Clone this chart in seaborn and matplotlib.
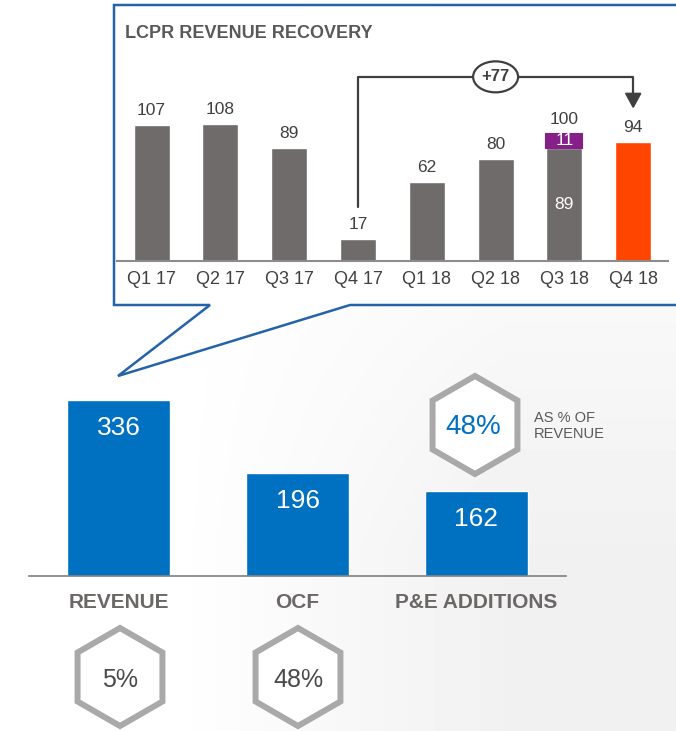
import matplotlib
matplotlib.use('Agg')
import matplotlib.pyplot as plt
import matplotlib.patches as mpatches
import numpy as np
import seaborn as sns

# 数据
quarters = ['Q1 17', 'Q2 17', 'Q3 17', 'Q4 17', 'Q1 18', 'Q2 18', 'Q3 18', 'Q4 18']
base_vals = [107, 108, 89, 17, 62, 80, 89, 94]
extra_vals = [0, 0, 0, 0, 0, 0, 11, 0]
total_vals = [107, 108, 89, 17, 62, 80, 100, 94]
recovery_delta = '+77'

categories = ['REVENUE', 'OCF', 'P&E ADDITIONS']
amounts = [336, 196, 162]
growth_labels = ['5%', '48%']
capex_ratio = '48%'

GRAY = '#6f6b6b'
ORANGE = '#ff4500'
PURPLE = '#861f87'
BLUE = '#0070c0'
HEX_EDGE = '#a9a9a9'
BOX_BLUE = '#2563a8'
DARK = '#3f3f3f'

sns.set_theme(style='white')
plt.rcParams['font.family'] = ['Liberation Sans', 'DejaVu Sans']

W, H = 676, 731
fig = plt.figure(figsize=(W / 100, H / 100), dpi=100)


def px_rect(left, top, right, bottom):
    """像素坐标 -> figure 坐标"""
    return [left / W, 1 - bottom / H, (right - left) / W, (bottom - top) / H]


# 背景层：渐变、对话框、六边形
ax_bg = fig.add_axes([0, 0, 1, 1], zorder=0)
ax_bg.set_xlim(0, W)
ax_bg.set_ylim(H, 0)
ax_bg.axis('off')
grad = np.array([[1.0, 0.99], [1.0, 0.945]])
ax_bg.imshow(grad, cmap='gray', vmin=0, vmax=1, extent=(0, W, H, 0),
             interpolation='bilinear', aspect='auto', zorder=0)

callout = [(210, 305), (114, 305), (114, 5), (690, 5), (690, 305),
           (350, 305), (118, 376), (210, 305)]
ax_bg.add_patch(mpatches.Polygon(callout, closed=True, facecolor='white',
                                 edgecolor=BOX_BLUE, lw=1.8, zorder=1))


def hexagon(cx, cy, r=49):
    ax_bg.add_patch(mpatches.RegularPolygon((cx, cy), numVertices=6, radius=r,
                                            facecolor='white', edgecolor=HEX_EDGE,
                                            lw=4.3, zorder=2))


for cx, lab in zip([120, 298], growth_labels):
    hexagon(cx, 677)
    ax_bg.text(cx, 680, lab, ha='center', va='center', fontsize=18, color='#4a4a4a', zorder=3)
hexagon(475, 425)
ax_bg.text(473, 427, capex_ratio, ha='center', va='center', fontsize=20, color=BLUE, zorder=3)
ax_bg.text(534, 426, 'AS % OF\nREVENUE', ha='left', va='center', fontsize=10.5,
           color='#595959', linespacing=1.25, zorder=3)

# 上方：LCPR 季度收入
ax = fig.add_axes(px_rect(117.2, 60, 667.6, 261), zorder=2)
ax.patch.set_alpha(0)
bar_w = 36 / 68.8
colors = [GRAY] * 7 + [ORANGE]
sns.barplot(x=quarters, y=base_vals, hue=quarters, palette=colors, legend=False,
            width=bar_w, saturation=1, ax=ax)
q3 = quarters.index('Q3 18')
ax.bar(q3, extra_vals[q3], bottom=base_vals[q3], width=bar_w, color=PURPLE,
       edgecolor=PURPLE, linewidth=1.5, zorder=3)
ax.set_xlim(-0.5, 7.5)
ax.set_ylim(0, 201 / 1.27)

for i, t in enumerate(total_vals):
    ax.annotate(str(t), (i, t), xytext=(0, 5), textcoords='offset points',
                ha='center', va='bottom', fontsize=12.5, color='#404040')
ax.text(q3, base_vals[q3] + extra_vals[q3] / 2, str(extra_vals[q3]), ha='center',
        va='center', fontsize=12.5, color='white', zorder=4)
ax.text(q3, base_vals[q3] / 2, str(base_vals[q3]), ha='center', va='center',
        fontsize=12.5, color='white', zorder=4)

# +77 括号箭头
i0, i1 = quarters.index('Q4 17'), quarters.index('Q4 18')
ax.plot([i0, i0, i1, i1], [42.5, 145, 145, 132], color=DARK, lw=1.6,
        clip_on=False, zorder=4)
ax.fill([i1 - 0.11, i1 + 0.11, i1], [132, 132, 121], color=DARK, clip_on=False, zorder=4)
ax.add_patch(mpatches.Ellipse(((i0 + i1) / 2, 145), 0.654, 24.4, facecolor='white',
                              edgecolor=DARK, lw=1.6, clip_on=False, zorder=5))
ax.text((i0 + i1) / 2, 145, recovery_delta, ha='center', va='center', fontsize=12,
        fontweight='bold', color=DARK, zorder=6)

sns.despine(ax=ax, left=True)
ax.spines['bottom'].set_color('#8c8c8c')
ax.spines['bottom'].set_linewidth(1.5)
ax.set_yticks([])
ax.set_xlabel('')
ax.set_ylabel('')
ax.tick_params(axis='x', length=0, pad=7, labelsize=13, labelcolor='#404040')

fig.text(125 / W, 1 - 34 / H, 'LCPR REVENUE RECOVERY', fontsize=13, fontweight='bold',
         color='#595959', va='center', ha='left')

# 下方：收入 / OCF / 资本支出
ax2 = fig.add_axes(px_rect(29, 390, 566, 576), zorder=2)
ax2.patch.set_alpha(0)
sns.barplot(x=categories, y=amounts, color=BLUE, width=103 / 179, saturation=1, ax=ax2)
ax2.set_xlim(-0.5, 2.5)
ax2.set_ylim(0, 186 / 0.524)
for i, v in enumerate(amounts):
    ax2.annotate(str(v), (i, v), xytext=(0, -20), textcoords='offset points',
                 ha='center', va='center', fontsize=19, color='white')
sns.despine(ax=ax2, left=True)
ax2.spines['bottom'].set_color('#7f7f7f')
ax2.spines['bottom'].set_linewidth(1.2)
ax2.set_yticks([])
ax2.set_xlabel('')
ax2.set_ylabel('')
ax2.tick_params(axis='x', length=0, pad=12, labelsize=15, labelcolor='#6b6767')
for lbl in ax2.get_xticklabels():
    lbl.set_fontweight('bold')

fig.savefig('out.png', dpi=100)
